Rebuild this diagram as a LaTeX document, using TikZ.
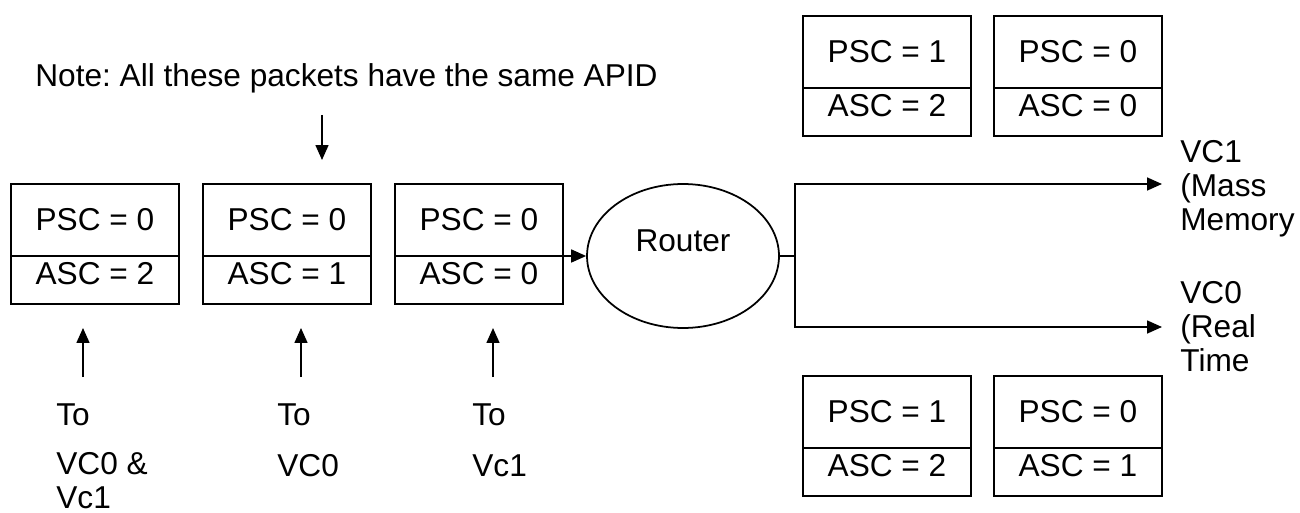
\documentclass[tikz,border=0pt]{standalone}
\usepackage{fontspec}
\setmainfont{Liberation Sans}
\usetikzlibrary{arrows.meta,positioning,shapes.geometric}
\frenchspacing
\newcommand{\pktfont}{\fontsize{18}{19.3}\selectfont}
\tikzset{
  pscbox/.style={
    rectangle, draw=black, line width=1.1pt,
    minimum width=3.36cm, minimum height=1.44cm,
    inner sep=0pt, outer sep=0pt, font=\pktfont
  },
  ascbox/.style={
    pscbox, minimum height=0.96cm,
    text height=0.46cm, text depth=0.28cm
  },
  routernode/.style={
    ellipse, draw=black, line width=1pt,
    minimum width=3.84cm, minimum height=2.88cm,
    text height=0.46cm, text depth=0.64cm, font=\pktfont
  },
  dataarrow/.style={
    -{Triangle[length=0.3cm, width=0.26cm]}, line width=0.9pt
  },
  labelnode/.style={
    inner sep=0pt, anchor=west, align=left, font=\pktfont
  },
}

\begin{document}
\begin{tikzpicture}[x=0.02cm, y=-0.02cm]
  \useasboundingbox (0,0) rectangle (1300,513);

  % Note above the incoming packets
  \node[labelnode] (note) at (35,78) {Note: All these packets have the same APID};
  \coordinate (ntail) at (322,115);
  \coordinate (ntip) at (322,160);
  \draw[dataarrow] (ntail) -- (ntip);

  % Incoming packets, left to right
  \node[pscbox, anchor=north west] (p1) at (11,184) {PSC = 0};
  \node[ascbox, below=0pt of p1] (a1) {ASC = 2};
  \node[pscbox, right=0.48cm of p1] (p2) {PSC = 0};
  \node[ascbox, below=0pt of p2] (a2) {ASC = 1};
  \node[pscbox, right=0.48cm of p2] (p3) {PSC = 0};
  \node[ascbox, below=0pt of p3] (a3) {ASC = 0};

  % Destinations below each packet
  \coordinate (utail1) at (83,377);
  \coordinate (utip1) at (83,328);
  \coordinate (utail2) at (301,377);
  \coordinate (utip2) at (301,328);
  \coordinate (utail3) at (493,377);
  \coordinate (utip3) at (493,328);
  \draw[dataarrow] (utail1) -- (utip1);
  \draw[dataarrow] (utail2) -- (utip2);
  \draw[dataarrow] (utail3) -- (utip3);

  \node[labelnode] (to1) at (56,415) {To};
  \node[labelnode] (to2) at (277,415) {To};
  \node[labelnode] (to3) at (472,415) {To};
  \node[labelnode] (dest1) at (56,481) {VC0 \&\\Vc1};
  \node[labelnode] (dest2) at (277,466) {VC0};
  \node[labelnode] (dest3) at (472,466) {Vc1};

  % Router and its two outputs
  \node[routernode] (router) at (683,256) {Router};
  \draw[dataarrow] (a3.north east) -- (router.west);

  \coordinate (split) at (795,256);
  \coordinate (vc1tip) at (1162,184);
  \coordinate (vc0tip) at (1162,327);
  \draw[line width=0.9pt] (router.east) -- (split);
  \draw[dataarrow] (split) |- (vc1tip);
  \draw[dataarrow] (split) |- (vc0tip);

  \node[labelnode] (vc1lbl) at (1180,189) {VC1\\(Mass\\Memory};
  \node[labelnode] (vc0lbl) at (1180,327) {VC0\\(Real\\Time};

  % Packets on the VC1 side (top)
  \node[pscbox, anchor=north west] (p4) at (803,16) {PSC = 1};
  \node[ascbox, below=0pt of p4] (a4) {ASC = 2};
  \node[pscbox, right=0.46cm of p4] (p5) {PSC = 0};
  \node[ascbox, below=0pt of p5] (a5) {ASC = 0};

  % Packets on the VC0 side (bottom)
  \node[pscbox, anchor=north west] (p6) at (803,376) {PSC = 1};
  \node[ascbox, below=0pt of p6] (a6) {ASC = 2};
  \node[pscbox, right=0.46cm of p6] (p7) {PSC = 0};
  \node[ascbox, below=0pt of p7] (a7) {ASC = 1};

\end{tikzpicture}
\end{document}
